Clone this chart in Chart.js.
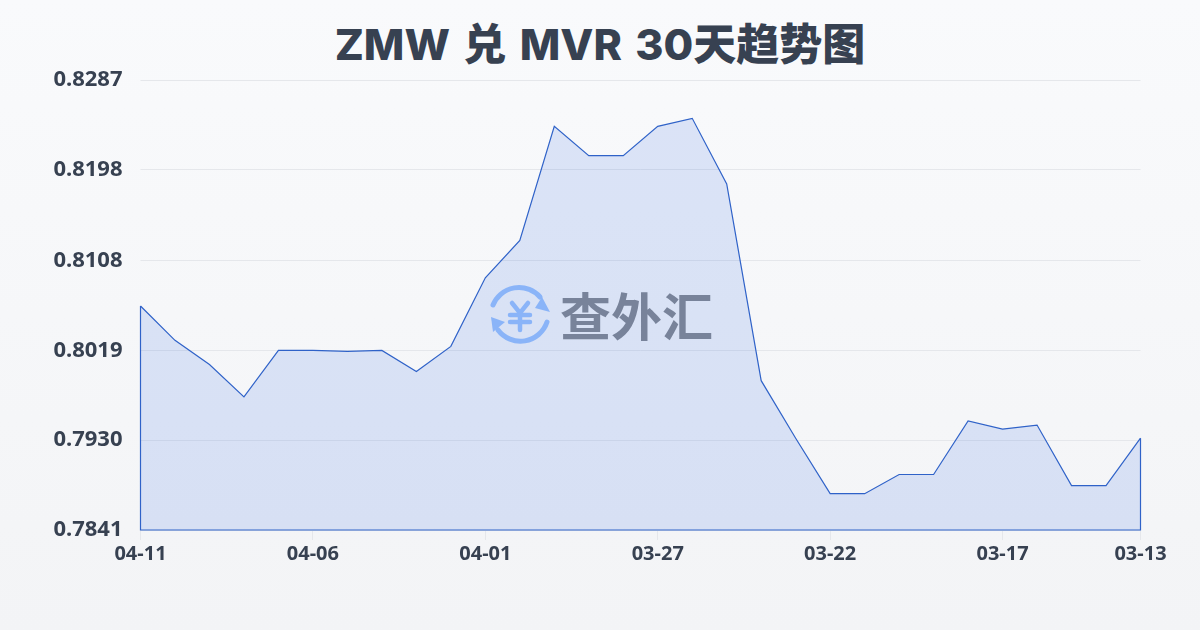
<!DOCTYPE html>
<html>
<head>
<meta charset="utf-8">
<style>
    html, body { margin: 0; padding: 0; }
    body { width: 1200px; height: 630px; overflow: hidden; position: relative;
        background: linear-gradient(180deg, #f9fafc 0%, #f3f4f6 100%); }
    #chart-wrap { position: absolute; left: 0; top: 0; width: 1200px; height: 630px; }
    #trend { display: block; }
    h1 { position: absolute; left: 0; top: 14px; width: 1200px; margin: 0; text-align: center;
        font: 800 43px/60px Inter, "Noto Sans CJK SC", sans-serif; word-spacing: 4px; color: #374151; }
    .mark { position: absolute; left: 480px; top: 280px; width: 80px; height: 70px; }
    .mark-text { position: absolute; left: 560px; top: 278px; font: 700 51px/72px "Noto Sans CJK SC", sans-serif;
        color: #78839a; white-space: nowrap; }
</style>
</head>
<body>
<h1>ZMW 兑 MVR 30天趋势图</h1>
<div id="chart-wrap"><canvas id="trend" width="1200" height="630"></canvas></div>
<svg class="mark" viewBox="0 0 80 70">
    <g fill="none" stroke="#8ab4f8" stroke-width="5" stroke-linecap="round">
        <path d="M13 25 A28 28 0 0 1 60 17"/>
        <path d="M67 42 A28 28 0 0 1 18 50"/>
        <path d="M32 23 L40 33 L48 23 M30 35 H50 M30 42 H50 M40 33 V50" stroke-width="4.5"/>
    </g>
    <path d="M62 17 L70 32 L55 28 Z" fill="#8ab4f8"/>
    <path d="M11 37 L25 42 L13 52 Z" fill="#8ab4f8"/>
</svg>
<div class="mark-text">查外汇</div>
<script src="https://cdn.jsdelivr.net/npm/chart.js@4"></script>
<script>
    let dates = ["04-11","04-10","04-09","04-08","04-07","04-06","04-05","04-04","04-03","04-02",
        "04-01","03-31","03-30","03-29","03-28","03-27","03-26","03-25","03-24","03-23",
        "03-22","03-21","03-20","03-19","03-18","03-17","03-16","03-15","03-14","03-13"];
    let rates = [0.8063,0.8029,0.8005,0.7973,0.8019,0.8019,0.8018,0.8019,0.7998,0.8023,
        0.8091,0.8128,0.8241,0.8212,0.8212,0.8241,0.8249,0.8184,0.7989,0.7932,
        0.7877,0.7877,0.7896,0.7896,0.7949,0.7941,0.7945,0.7885,0.7885,0.7932];
    let xTickLabels = ["04-11","04-06","04-01","03-27","03-22","03-17","03-13"];
    let yTickLabels = ["0.7841","0.7930","0.8019","0.8108","0.8198","0.8287"];

    let textColor = "#374151";
    let lineColor = "#2f62c8";

    // closes the area outline down the sides and along the bottom
    let outline = {
        id: "outline",
        afterDatasetsDraw(chart) {
            let pts = chart.getDatasetMeta(0).data;
            let first = pts[0], last = pts[pts.length - 1];
            let bottom = chart.scales.y.bottom;
            let ctx = chart.ctx;
            ctx.save();
            ctx.strokeStyle = lineColor;
            ctx.lineWidth = 1.2;
            ctx.beginPath();
            ctx.moveTo(first.x, first.y);
            ctx.lineTo(first.x, bottom);
            ctx.lineTo(last.x, bottom);
            ctx.lineTo(last.x, last.y);
            ctx.stroke();
            ctx.restore();
        }
    };

    new Chart(document.getElementById("trend").getContext("2d"), {
        type: "line",
        data: {
            labels: dates,
            datasets: [{
                data: rates,
                borderColor: lineColor,
                borderWidth: 1.2,
                backgroundColor: "rgba(40,100,230,0.14)",
                fill: "start",
                pointRadius: 0,
                tension: 0
            }]
        },
        plugins: [outline],
        options: {
            responsive: false,
            animation: false,
            layout: { padding: { top: 80, right: 59.5, bottom: 0, left: 0 } },
            plugins: {
                legend: { display: false },
                tooltip: { enabled: false },
                title: { display: false }
            },
            scales: {
                x: {
                    grid: { drawOnChartArea: false, color: "#e5e7eb", tickLength: 10 },
                    border: { display: false },
                    afterBuildTicks(axis) {
                        axis.ticks = xTickLabels.map(l => ({ value: dates.indexOf(l) }));
                    },
                    ticks: {
                        autoSkip: false,
                        maxRotation: 0,
                        padding: 2,
                        color: textColor,
                        font: { family: "'Noto Sans'", size: 20, weight: "bold" },
                        callback(value) { return dates[value]; }
                    },
                    afterFit(axis) { axis.height = 100; }
                },
                y: {
                    min: 0.7841,
                    max: 0.8287,
                    grid: { color: "#e5e7eb", tickLength: 0 },
                    border: { display: false },
                    afterBuildTicks(axis) {
                        axis.ticks = yTickLabels.map(l => ({ value: parseFloat(l) }));
                    },
                    ticks: {
                        padding: 18,
                        color: textColor,
                        font: { family: "'Noto Sans'", size: 22, weight: "bold" },
                        callback(value) { return value.toFixed(4); }
                    },
                    afterFit(axis) { axis.width = 140.5; }
                }
            }
        }
    });
</script>
</body>
</html>
